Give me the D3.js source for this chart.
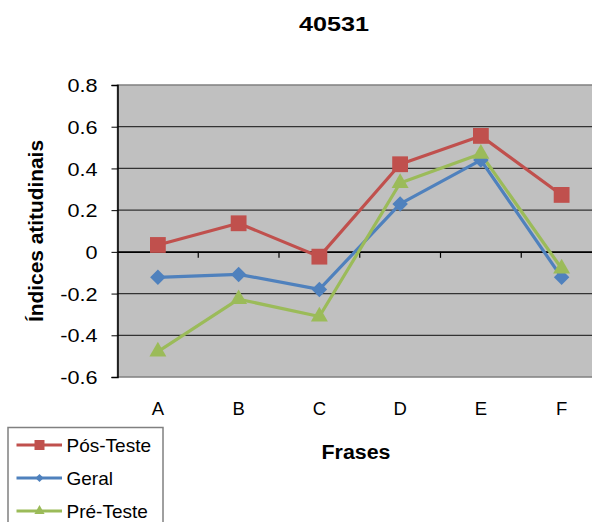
<!DOCTYPE html>
<html><head><meta charset="utf-8">
<script src="https://cdn.jsdelivr.net/npm/d3@7"></script>
<style>body{margin:0;background:#fff}svg{display:block;font-family:"Liberation Sans",Arial,sans-serif}</style>
</head><body><svg id="c" width="592" height="522"></svg>
<script>
const categories = ["A","B","C","D","E","F"];
const posTeste = [0.033, 0.137, -0.023, 0.42, 0.556, 0.273];
const geral = [-0.122, -0.108, -0.18, 0.23, 0.44, -0.122];
const preTeste = [-0.478, -0.227, -0.31, 0.33, 0.47, -0.08];
const yTicks = [-0.6, -0.4, -0.2, 0, 0.2, 0.4, 0.6, 0.8];
const seriesNames = ["Pós-Teste", "Geral", "Pré-Teste"];

const diamond = {draw(ctx, size){const r = Math.sqrt(size / 2); ctx.moveTo(0, -r); ctx.lineTo(r, 0); ctx.lineTo(0, r); ctx.lineTo(-r, 0); ctx.closePath();}};
const series = [
  {name: seriesNames[0], values: posTeste, color: "#C0504D", sym: d3.symbolSquare, size: 250, lsize: 100},
  {name: seriesNames[1], values: geral, color: "#4F81BD", sym: diamond, size: 120, lsize: 34},
  {name: seriesNames[2], values: preTeste, color: "#9BBB59", sym: d3.symbolTriangle, size: 125, lsize: 45}
];

const svg = d3.select("#c");
const L = 117.5, R = 602, T = 85, B = 377;
const x = d3.scaleBand().domain(categories).range([L, R]);
const y = d3.scaleLinear().domain([-0.6, 0.8]).range([B, T]);

function stretch(sel, k){ sel.each(function(){ const w = this.getComputedTextLength(); d3.select(this).attr("textLength", w * k).attr("lengthAdjust", "spacingAndGlyphs"); }); }

svg.append("rect").attr("x", L).attr("y", T).attr("width", R - L).attr("height", B - T)
  .attr("fill", "#C0C0C0").attr("stroke", "#808080").attr("stroke-width", 1.5);

// gridlines
svg.append("g").selectAll("line").data(yTicks.filter(d => d !== -0.6 && d !== 0.8)).join("line")
  .attr("x1", L).attr("x2", R).attr("y1", d => y(d)).attr("y2", d => y(d))
  .attr("stroke", "#333").attr("stroke-width", 1.2);

// y axis
const ya = svg.append("g").attr("transform", `translate(${L},0)`)
  .call(d3.axisLeft(y).tickValues(yTicks).tickSize(6).tickPadding(14).tickFormat(d => d === 0 ? "0" : d3.format(".1f")(d).replace("−", "-")));
ya.select(".domain").attr("stroke", "#000").attr("stroke-width", 1.5);
ya.selectAll(".tick line").attr("stroke", "#000");
ya.selectAll("text").attr("font-size", 18.5).attr("fill", "#000").attr("dy", "0.36em")
  .attr("font-family", "Liberation Sans, Arial, sans-serif");
stretch(ya.selectAll("text"), 1.17);

// x axis at zero
const xa = svg.append("g").attr("transform", `translate(0,${y(0)})`)
  .call(d3.axisBottom(x).tickSize(0).tickFormat(""));
xa.select(".domain").attr("stroke", "#000").attr("stroke-width", 1.5);
svg.append("g").selectAll("line").data(categories.slice(1)).join("line")
  .attr("x1", d => x(d)).attr("x2", d => x(d)).attr("y1", y(0)).attr("y2", y(0) + 6)
  .attr("stroke", "#000").attr("stroke-width", 1.2);

// category labels
svg.append("g").selectAll("text").data(categories).join("text")
  .attr("x", d => x(d) + x.bandwidth() / 2).attr("y", 415)
  .attr("text-anchor", "middle").attr("font-size", 18.5).text(d => d);

// lines and markers
const line = d3.line().x((d, i) => x(categories[i]) + x.bandwidth() / 2).y(d => y(d));
series.forEach(s => {
  svg.append("path").datum(s.values).attr("d", line).attr("fill", "none")
    .attr("stroke", s.color).attr("stroke-width", 3.2).attr("stroke-linejoin", "round");
});
series.forEach(s => {
  svg.append("g").selectAll("path").data(s.values).join("path")
    .attr("transform", (d, i) => `translate(${x(categories[i]) + x.bandwidth() / 2},${y(d)})`)
    .attr("d", d3.symbol().type(s.sym).size(s.size)).attr("fill", s.color);
});

// titles
svg.append("text").attr("x", 334).attr("y", 31).attr("text-anchor", "middle")
  .attr("font-size", 20).attr("font-weight", "bold").text("40531")
  .attr("textLength", 70).attr("lengthAdjust", "spacingAndGlyphs");
svg.append("text").attr("x", 356).attr("y", 458.5).attr("text-anchor", "middle")
  .attr("font-size", 20).attr("font-weight", "bold").text("Frases")
  .attr("textLength", 69).attr("lengthAdjust", "spacingAndGlyphs");
svg.append("text").attr("transform", "translate(43,231) rotate(-90)").attr("text-anchor", "middle")
  .attr("font-size", 20).attr("font-weight", "bold").text("Índices atitudinais")
  .attr("textLength", 182).attr("lengthAdjust", "spacingAndGlyphs");

// legend
const lg = svg.append("g");
lg.append("rect").attr("x", 8).attr("y", 427.5).attr("width", 155).attr("height", 100)
  .attr("fill", "#fff").attr("stroke", "#808080").attr("stroke-width", 1.5);
series.forEach((s, i) => {
  const yy = 445 + i * 33;
  lg.append("line").attr("x1", 16.5).attr("x2", 62).attr("y1", yy).attr("y2", yy)
    .attr("stroke", s.color).attr("stroke-width", 3);
  lg.append("path").attr("transform", `translate(39.5,${yy})`)
    .attr("d", d3.symbol().type(s.sym).size(s.lsize)).attr("fill", s.color);
  lg.append("text").attr("x", 66.5).attr("y", yy + 6.8).attr("font-size", 19).text(s.name);
});
</script></body></html>
